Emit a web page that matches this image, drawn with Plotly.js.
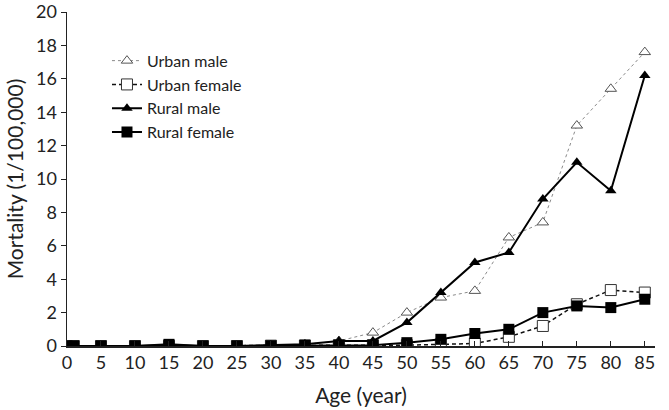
<!DOCTYPE html>
<html>
<head>
<meta charset="utf-8">
<script src="https://cdn.plot.ly/plotly-3.0.1.min.js"></script>
<style>body{margin:0;padding:0;background:#fff;}#chart{width:669px;height:410px;}</style>
</head>
<body>
<div id="chart"></div>
<script>
const ages = [0, 1, 5, 10, 15, 20, 25, 30, 35, 40, 45, 50, 55, 60, 65, 70, 75, 80, 85];
const urbanMale   = [0, 0, 0, 0, 0.05, 0, 0, 0.05, 0.1, 0.3, 0.8, 2.0, 2.9, 3.3, 6.5, 7.4, 13.2, 15.4, 17.6];
const urbanFemale = [0, 0, 0, 0, 0.02, 0, 0, 0.02, 0.03, 0.05, 0.05, 0.05, 0.1, 0.15, 0.55, 1.2, 2.5, 3.35, 3.2];
const ruralMale   = [0, 0, 0, 0, 0.05, 0, 0, 0.05, 0.1, 0.3, 0.3, 1.4, 3.2, 5.0, 5.6, 8.8, 11.0, 9.3, 16.2];
const ruralFemale = [0, 0, 0, 0, 0.1, 0, 0, 0.02, 0.05, 0.05, 0.05, 0.2, 0.4, 0.75, 1.0, 2.0, 2.4, 2.3, 2.8];
const seriesNames = ["Urban male", "Urban female", "Rural male", "Rural female"];
const xTicks = [0, 5, 10, 15, 20, 25, 30, 35, 40, 45, 50, 55, 60, 65, 70, 75, 80, 85];
const yTicks = [0, 2, 4, 6, 8, 10, 12, 14, 16, 18, 20];

const font = "Lato, 'Liberation Sans', sans-serif";
const traces = [
  {x: ages, y: urbanMale, name: seriesNames[0], mode: "lines+markers",
   line: {color: "#8a8a8a", width: 1, dash: "dot"},
   marker: {symbol: "triangle-up", size: 10, color: "#fff", line: {color: "#555", width: 1}}},
  {x: ages, y: urbanFemale, name: seriesNames[1], mode: "lines+markers",
   line: {color: "#111", width: 1.5, dash: "4px,3px"},
   marker: {symbol: "square", size: 11, color: "#fff", line: {color: "#333", width: 1}}},
  {x: ages, y: ruralMale, name: seriesNames[2], mode: "lines+markers",
   line: {color: "#000", width: 2},
   marker: {symbol: "triangle-up", size: 10, color: "#000"}},
  {x: ages, y: ruralFemale, name: seriesNames[3], mode: "lines+markers",
   line: {color: "#000", width: 2},
   marker: {symbol: "square", size: 11, color: "#000"}}
];

const layout = {
  width: 669, height: 410,
  margin: {l: 67, r: 14, t: 12, b: 64},
  paper_bgcolor: "#fff", plot_bgcolor: "#fff",
  font: {family: font, color: "#222"},
  showlegend: true,
  legend: {x: 0.068, y: 0.905, xanchor: "left", yanchor: "top", bgcolor: "rgba(0,0,0,0)",
           font: {size: 16, family: font, color: "#222"}},
  xaxis: {range: [0, 86.5], tickvals: xTicks, ticktext: xTicks.map(String),
          showline: true, linecolor: "#222", linewidth: 1.5, ticks: "inside", ticklen: 5, tickcolor: "#222",
          showgrid: false, zeroline: false, tickfont: {size: 18, family: font, color: "#222"},
          title: {text: "Age (year)", font: {size: 21, family: font, color: "#222"}, standoff: 16}},
  yaxis: {range: [0, 20], tickvals: yTicks, ticktext: yTicks.map(String),
          showline: true, linecolor: "#222", linewidth: 1.5, ticks: "outside", ticklen: 5, tickcolor: "#222",
          showgrid: false, zeroline: false, tickfont: {size: 18, family: font, color: "#222"},
          title: {text: "Mortality (1/100,000)", font: {size: 21, family: font, color: "#222"}, standoff: 6}}
};
Plotly.newPlot("chart", traces, layout, {displayModeBar: false, staticPlot: true});
</script>
</body>
</html>
